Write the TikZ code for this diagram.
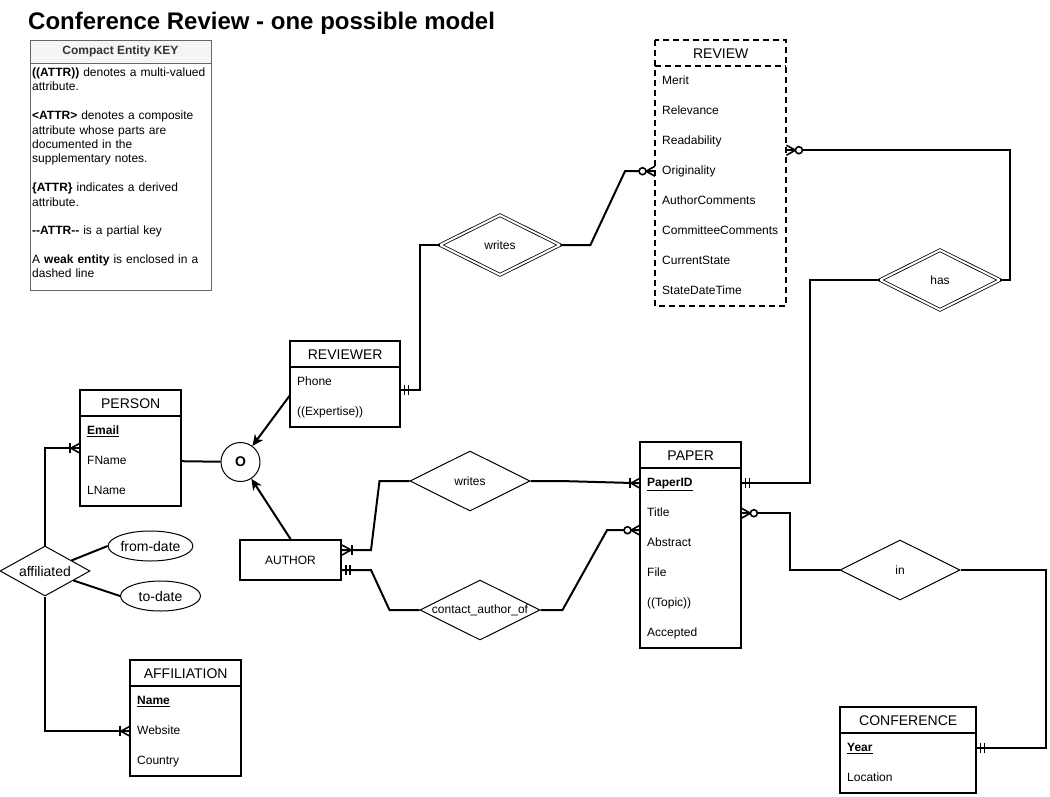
\documentclass[tikz,border=0pt]{standalone}
\usepackage{fontspec}
\setmainfont{Liberation Sans}
\usetikzlibrary{shapes.geometric,calc,arrows.meta}
\definecolor{keyfill}{HTML}{F5F5F5}
\definecolor{keyline}{HTML}{666666}
\definecolor{keytext}{HTML}{333333}
\tikzset{
  ebox/.style={line width=2pt},
  ehead/.style={draw=none, minimum height=26pt, inner sep=0pt, font=\fontsize{14}{16}\selectfont},
  erow/.style={draw=none, minimum height=30pt, inner sep=0pt},
  ertext/.style={inner sep=0pt, font=\fontsize{12}{14}\selectfont, text height=8.7pt, text depth=2.5pt},
  weak/.style={dash pattern=on 6pt off 4pt},
  rel/.style={diamond, draw, line width=1pt, inner sep=0pt, aspect=2, minimum width=120pt, minimum height=60pt, font=\fontsize{12}{14}\selectfont},
  idrel/.style={rel, double, double distance=2pt, line width=0.8pt},
  conn/.style={line width=2pt},
  ermark/.style={line width=1.6pt},
  arr/.style={line width=2pt, -{Stealth[length=11pt,width=10pt,inset=3pt]}},
  attr/.style={ellipse, draw, line width=1pt, minimum width=80pt, minimum height=30pt, inner sep=0pt, font=\fontsize{14}{16}\selectfont},
  disj/.style={circle, draw, line width=1pt, minimum size=39pt, inner sep=0pt, font=\fontsize{14}{16}\selectfont\bfseries},
  keytxt/.style={inner sep=0pt, align=left, text width=178pt, font=\fontsize{12}{14.4}\selectfont},
}
% entity: [style]{name}{left x}{top y}{width}{title}{rows}
\newcommand\erent[6][]{%
  \node[ehead,minimum width=#5pt,anchor=north west] (#2) at (#3,#4) {#6};
  \erentrows{#1}{#2}{#3}{#4}{#5}%
}
\newcommand\erentrows[6]{%
  \foreach \ertxt [count=\i] in {#6}{%
    \node[erow,minimum width=#5pt,anchor=north west] (#2-\i) at (#3,{#4+26+30*(\i-1)}) {};
    \node[ertext,anchor=west] (#2-\i-t) at ([xshift=7pt]#2-\i.west) {\ertxt};
    \xdef\erlast{\i}}%
  \draw[ebox,#1] ([yshift=0pt]#2.south west) -- (#2.south east);
  \draw[ebox,#1] (#3,#4) rectangle ({#3+#5},{#4+26+30*\erlast});
}
\newcommand\mone[2]{%
  \draw[ermark] ([xshift={#2*4pt},yshift=5pt]#1) -- ([xshift={#2*4pt},yshift=-5pt]#1)
                ([xshift={#2*8pt},yshift=5pt]#1) -- ([xshift={#2*8pt},yshift=-5pt]#1);}
\newcommand\crowf[2]{%
  \draw[ermark] ([yshift=5pt]#1) -- ([xshift={#2*9pt}]#1) -- ([yshift=-5pt]#1);}
\newcommand\omany[2]{\crowf{#1}{#2}%
  \draw[ermark] ([xshift={#2*10pt},yshift=5pt]#1) -- ([xshift={#2*10pt},yshift=-5pt]#1);}
\newcommand\zmany[2]{\crowf{#1}{#2}%
  \draw[ermark,fill=white] ([xshift={#2*12.5pt}]#1) circle[radius=3.5pt];}
\begin{document}
\begin{tikzpicture}[x=1pt,y=-1pt]
\useasboundingbox (0,0) rectangle (1050,796);

% title
\node[anchor=west, inner sep=0pt, font=\fontsize{24}{28}\selectfont\bfseries] (title) at (28,23) {Conference Review - one possible model};

% key
\node[draw=keyline, line width=1pt, minimum width=181pt, minimum height=250pt, inner sep=0pt] (keybox) at (120.5,165) {};
\node[draw=keyline, fill=keyfill, line width=1pt, minimum width=181pt, minimum height=23pt, inner sep=0pt, text=keytext, font=\fontsize{12}{14}\selectfont\bfseries] (keyhead) at (120.5,51.5) {Compact Entity KEY};
\node[keytxt, anchor=north west] (keybody) at (32,67.5) {\textbf{((ATTR))} denotes a multi-valued\\ attribute.\\[14.4pt]
\textbf{<ATTR>} denotes a composite\\ attribute whose parts are\\ documented in the\\ supplementary notes.\\[14.4pt]
\textbf{\{ATTR\}} indicates a derived\\ attribute.\\[14.4pt]
\textbf{-{}-ATTR-{}-} is a partial key\\[14.4pt]
A \textbf{weak entity} is enclosed in a\\ dashed line};

% entities
\erent[weak]{review}{655}{40}{131}{REVIEW}{Merit,Relevance,Readability,Originality,AuthorComments,CommitteeComments,CurrentState,StateDateTime}
\erent{reviewer}{290}{341}{110}{REVIEWER}{Phone,((Expertise))}
\erent{person}{80}{390}{101}{PERSON}{{\underline{\textbf{Email}}},FName,LName}
\erent{paper}{640}{442}{101}{PAPER}{{\underline{\textbf{PaperID}}},Title,Abstract,File,((Topic)),Accepted}
\erent{affiliation}{130}{660}{111}{AFFILIATION}{{\underline{\textbf{Name}}},Website,Country}
\erent{conference}{840}{707}{136}{CONFERENCE}{{\underline{\textbf{Year}}},Location}
\node[draw, line width=2pt, minimum width=101pt, minimum height=40pt, inner sep=0pt, font=\fontsize{12}{14}\selectfont] (author) at (290.5,560) {AUTHOR};

% relationships
\node[idrel] (writesR) at (500,245) {\makebox[0pt]{writes}};
\node[idrel] (has) at (940,280) {\makebox[0pt]{has}};
\node[rel] (writesA) at (470,481) {\makebox[0pt]{writes}};
\node[rel] (contact) at (480,610) {\makebox[0pt]{contact\_author\_of}};
\node[rel] (inR) at (900,570) {\makebox[0pt]{in}};
\node[rel, minimum width=90pt, minimum height=50pt, font=\fontsize{14}{16}\selectfont] (affil) at (45,571) {\makebox[0pt]{affiliated}};
\node[attr] (fromdate) at (150.5,546) {from-date};
\node[attr] (todate) at (160.5,596) {to-date};
\node[disj] (disj) at (240.5,462) {O};

% connectors
\coordinate (revwR) at ([yshift=-8pt]reviewer-1.east);
\draw[conn] (revwR) -- ++(20,0) |- (writesR.west);
\mone{revwR}{1}
\draw[conn] (writesR.east) -- ++(30,0) -- ([xshift=-30pt]review-4.west) -- (review-4.west);
\zmany{review-4.west}{-1}
\coordinate (revR) at ([yshift=-9pt]review-3.east);
\draw[conn] (revR) -| ([xshift=10pt]has.east) -- (has.east);
\zmany{revR}{1}
\draw[conn] (has.west) -- ++(-70,0) |- (paper-1.east);
\mone{paper-1.east}{1}

\draw[conn] (person-2.east) -- (disj);
\coordinate (revwL) at ([yshift=-13pt]reviewer-1.west);
\draw[arr] (revwL) -- (disj);
\draw[arr] (author.north) -- (disj);

\coordinate (authR1) at ([yshift=10pt]author.east);
\coordinate (authR2) at ([yshift=-10pt]author.east);
\draw[conn] (authR1) -- ++(29,0) -- ([xshift=-30pt]writesA.west) -- (writesA.west);
\omany{authR1}{1}
\draw[conn] (writesA.east) -- ++(30,0) -- (paper-1.west);
\omany{paper-1.west}{-1}
\draw[conn] (authR2) -- ++(29,0) -- ([xshift=-30pt]contact.west) -- (contact.west);
\mone{authR2}{1}
\coordinate (papL) at ([yshift=-17pt]paper-2.west);
\draw[conn] (contact.east) -- ++(22,0) -- ([xshift=-33pt]papL) -- (papL);
\zmany{papL}{-1}
\draw[conn] (paper-2.east) -- ++(49,0) |- (inR.west);
\zmany{paper-2.east}{1}
\draw[conn] (inR.east) -- ++(85,0) |- (conference-1.east);
\mone{conference-1.east}{1}

\coordinate (perL) at ([yshift=13pt]person-2.west);
\draw[conn] (affil.north) |- (perL);
\omany{perL}{-1}
\draw[conn] (affil.south) |- (affiliation-2.west);
\omany{affiliation-2.west}{-1}
\draw[conn] (affil) -- (fromdate.west);
\draw[conn] (affil) -- (todate.west);
\end{tikzpicture}
\end{document}
